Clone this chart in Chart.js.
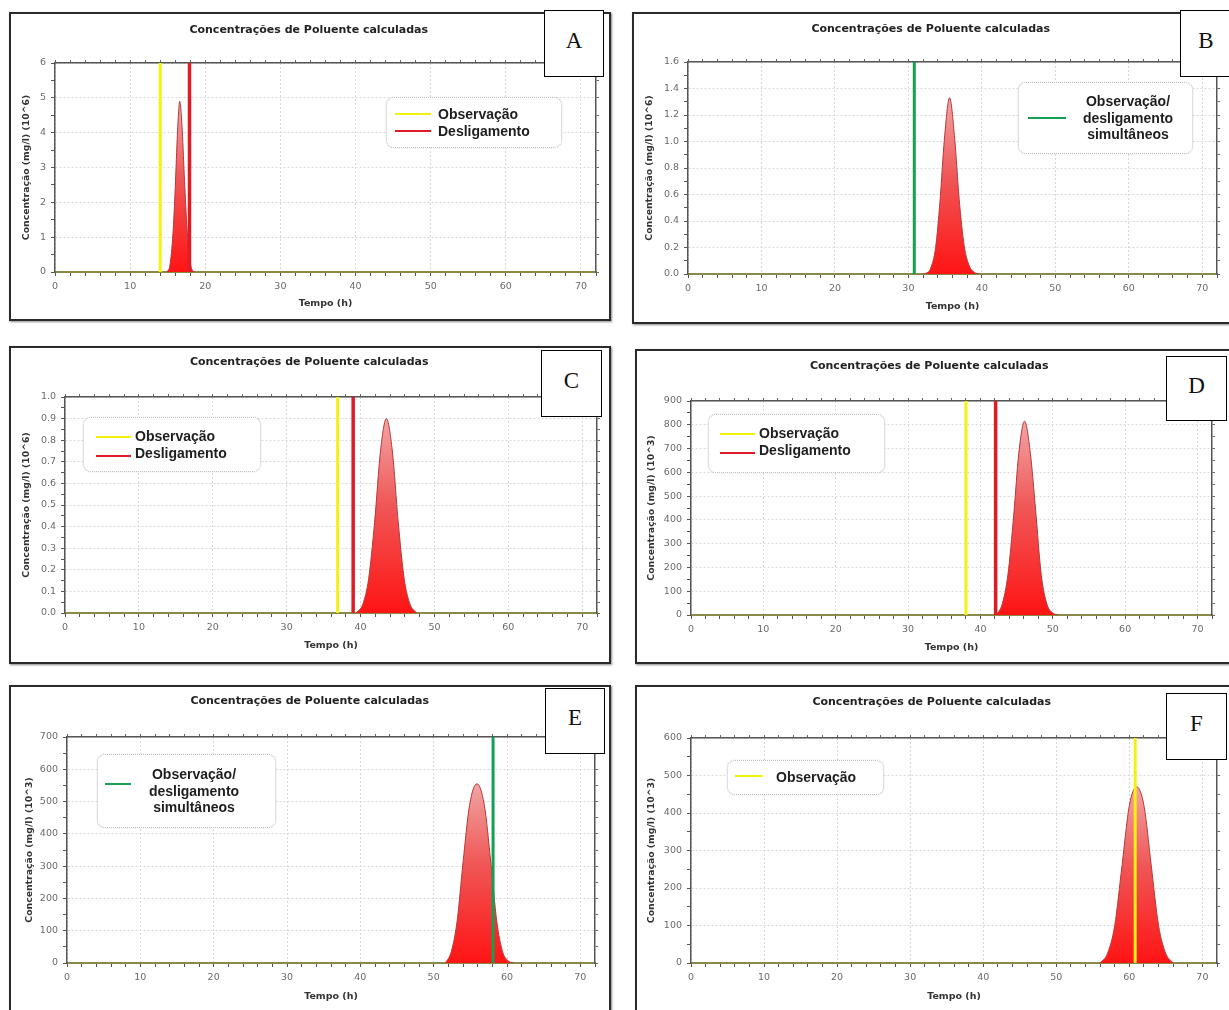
<!DOCTYPE html>
<html>
<head>
<meta charset="utf-8">
<script src="https://cdn.jsdelivr.net/npm/chart.js@4.4.1/dist/chart.umd.min.js"></script>
<style>
  html, body { margin: 0; padding: 0; background: #fff; }
  body { width: 1229px; height: 1010px; overflow: hidden; position: relative; font-family: "Liberation Sans", Arial, sans-serif; }
  .frame { position: absolute; border: 2px solid #2b2b2b; box-shadow: 1px 1px 2px #888; background: #fff; }
  .frame canvas { position: absolute; left: 0; top: 0; }
  .letter { position: absolute; background: #fff; border: 1px solid #000; box-sizing: border-box;
            font-family: "Liberation Serif", serif; font-size: 23px; color: #111;
            display: flex; align-items: center; justify-content: center; padding-bottom: 6px; }
  .legend { position: absolute; background: #fff; border: 1px dotted #bdbdbd; border-radius: 8px;
            box-shadow: 0 0 2px rgba(0,0,0,0.12); box-sizing: border-box; }
  .legend .swatch { position: absolute; height: 2px; }
  .legend .txt { position: absolute; font-weight: bold; font-size: 14px; line-height: 17px; color: #1e1e1e; white-space: nowrap; }
</style>
</head>
<body>
<script>
// ---- data ----
const panelNames = ['A', 'B', 'C', 'D', 'E', 'F'];
const xMax = 72;
const yMax = [6, 1.6, 1.0, 900, 700, 600];
const yMajor = [1, 0.2, 0.1, 100, 100, 100];
const yDecimals = [0, 1, 1, 0, 0, 0];
const yUnit = ['(10^6)', '(10^6)', '(10^6)', '(10^3)', '(10^3)', '(10^3)'];

// vertical markers (hours)
const obsTime = [14, null, 36.9, 38, null, 60.8];
const deslTime = [17.9, null, 39, 42.1, null, null];
const simTime = [null, 30.8, null, null, 58.1, null];

// concentration peaks
const peakTimeA = [14.9, 15.3, 15.7, 16.0, 16.3, 16.6, 16.9, 17.2, 17.5, 17.8, 18.1, 18.5];
const peakConcA = [0, 0.2, 1.1, 2.4, 4.0, 4.9, 4.2, 2.8, 1.5, 0.6, 0.15, 0];
const peakTimeB = [32.2, 33.0, 33.7, 34.3, 34.9, 35.6, 36.3, 36.9, 37.6, 38.3, 39.0, 39.6];
const peakConcB = [0, 0.04, 0.2, 0.55, 1.02, 1.33, 1.02, 0.57, 0.21, 0.06, 0.012, 0];
const peakTimeC = [39.4, 40.3, 41.1, 41.9, 42.7, 43.5, 44.3, 45.1, 45.9, 46.7, 47.6];
const peakConcC = [0, 0.04, 0.16, 0.42, 0.75, 0.9, 0.75, 0.42, 0.16, 0.04, 0];
const peakTimeD = [42.2, 43.0, 43.8, 44.6, 45.3, 46.1, 46.9, 47.6, 48.4, 49.2, 50.0, 50.7];
const peakConcD = [0, 45, 170, 420, 680, 815, 680, 450, 170, 45, 8, 0];
const peakTimeE = [51.6, 52.4, 53.2, 54.0, 54.9, 55.9, 56.9, 57.8, 58.6, 59.4, 60.2, 60.9];
const peakConcE = [0, 35, 130, 310, 490, 555, 490, 310, 130, 35, 6, 0];
const peakTimeF = [56.0, 57.0, 58.0, 59.0, 60.0, 61.0, 62.0, 63.0, 64.0, 65.0, 66.0];
const peakConcF = [0, 25, 100, 260, 420, 470, 420, 260, 100, 25, 0];

const peakTimes = [peakTimeA, peakTimeB, peakTimeC, peakTimeD, peakTimeE, peakTimeF];
const peakConcs = [peakConcA, peakConcB, peakConcC, peakConcD, peakConcE, peakConcF];

const labelObs = 'Observação';
const labelDesl = 'Desligamento';
const labelSim = ['Observação/', 'desligamento', 'simultâneos'];
const chartTitle = 'Concentrações de Poluente calculadas';
const xTitle = 'Tempo (h)';

// ---- page layout (pixels) ----
const layouts = [
  { frame: [9, 12, 602, 309], plot: [55, 63, 596, 272], titleY: 30, xTitleY: 304, yTitleX: 27,
    letter: [544, 10, 60, 67], legend: { box: [386, 97, 176, 51], lineX: 8, lineW: 36, lineRows: [16, 33], textX: 51, textRows: [16, 33] } },
  { frame: [632, 12, 602, 312], plot: [688, 62, 1217, 274], titleY: 29, xTitleY: 307, yTitleX: 650,
    letter: [1180, 10, 52, 67], legend: { box: [1018, 82, 175, 72], lineX: 9, lineW: 38, lineRows: [35], textCenter: 109, textRows: [18, 35, 51] } },
  { frame: [9, 346, 602, 318], plot: [65, 397, 597, 613], titleY: 362, xTitleY: 646, yTitleX: 27,
    letter: [541, 350, 61, 67], legend: { box: [83, 417, 178, 55], lineX: 12, lineW: 35, lineRows: [19, 38], textX: 51, textRows: [18, 35] } },
  { frame: [635, 349, 600, 315], plot: [691, 401, 1212, 615], titleY: 366, xTitleY: 648, yTitleX: 652,
    letter: [1166, 356, 61, 65], legend: { box: [708, 414, 177, 59], lineX: 11, lineW: 35, lineRows: [19, 38], textX: 50, textRows: [18, 35] } },
  { frame: [9, 685, 602, 330], plot: [67, 737, 595, 963], titleY: 701, xTitleY: 997, yTitleX: 30,
    letter: [545, 688, 60, 66], legend: { box: [97, 754, 179, 74], lineX: 7, lineW: 26, lineRows: [29], textCenter: 96, textRows: [19, 36, 52] } },
  { frame: [635, 685, 600, 330], plot: [691, 738, 1217, 963], titleY: 702, xTitleY: 997, yTitleX: 652,
    letter: [1166, 693, 61, 67], legend: { box: [727, 760, 157, 35], lineX: 7, lineW: 28, lineRows: [15], textX: 48, textRows: [16] } }
];

const YELLOW = '#f4f20c';
const RED = '#df1c24';
const GREEN = '#14a052';

const isMajor = (v, step) => Math.abs(v / step - Math.round(v / step)) < 1e-6;

function peakFill(c) {
  const chart = c.chart;
  const area = chart.chartArea;
  if (!area) return '#f03c3c';
  const ds = chart.data.datasets[c.datasetIndex];
  const top = chart.scales.y.getPixelForValue(Math.max(...ds.data.map(p => p.y)));
  const g = chart.ctx.createLinearGradient(0, top, 0, area.bottom);
  g.addColorStop(0, '#f2a4a4');
  g.addColorStop(0.45, '#f05656');
  g.addColorStop(1, '#ff1414');
  return g;
}

function vline(t, top, color, width) {
  return { data: [{ x: t, y: 0 }, { x: t, y: top }], borderColor: color, borderWidth: width, pointRadius: 0, fill: false };
}

function addBox(cls, r) {
  const d = document.createElement('div');
  d.className = cls;
  d.style.left = r[0] + 'px'; d.style.top = r[1] + 'px';
  d.style.width = r[2] + 'px'; d.style.height = r[3] + 'px';
  document.body.appendChild(d);
  return d;
}

panelNames.forEach((name, i) => {
  const L = layouts[i];
  const [fx, fy, fw, fh] = L.frame;
  const cx = fx + 2, cy = fy + 2, cw = fw - 4, ch = fh - 4;
  const frame = addBox('frame', [fx, fy, fw - 4, fh - 4]);
  const canvas = document.createElement('canvas');
  canvas.width = cw; canvas.height = ch;
  canvas.style.width = cw + 'px'; canvas.style.height = ch + 'px';
  frame.appendChild(canvas);

  // fit chart area onto the plot rectangle
  const pl = L.plot[0] - cx, pt = L.plot[1] - cy, pr = L.plot[2] - cx, pb = L.plot[3] - cy;
  const yTitleLH = 9.3 * 1.2, xTitleLH = 9.5 * 1.2, titleLH = 11 * 1.2;
  const padLeft = (L.yTitleX - cx) - yTitleLH / 2;
  const yW = pl - padLeft;
  const xBottom = (L.xTitleY - cy) + xTitleLH / 2;
  const padBottom = ch - xBottom;
  const xH = xBottom - pb;
  const padRight = cw - pr;
  const tPadTop = (L.titleY - cy) - titleLH / 2;
  const tPadBottom = pt - tPadTop - titleLH;

  const datasets = [];
  if (simTime[i] !== null) datasets.push(vline(simTime[i], yMax[i], GREEN, 3));
  if (deslTime[i] !== null) datasets.push(vline(deslTime[i], yMax[i], RED, 3.5));
  if (obsTime[i] !== null) datasets.push(vline(obsTime[i], yMax[i], YELLOW, 3));
  datasets.push({
    data: peakTimes[i].map((t, k) => ({ x: t, y: peakConcs[i][k] })),
    borderColor: '#b23a3a', borderWidth: 1, pointRadius: 0,
    fill: 'origin', backgroundColor: peakFill,
    tension: 0.4, cubicInterpolationMode: 'monotone'
  });

  const tickFont = { family: 'DejaVu Sans', size: 9.5 };
  new Chart(canvas, {
    type: 'line',
    data: { datasets },
    options: {
      responsive: false, animation: false, devicePixelRatio: 1,
      layout: { padding: { left: padLeft, right: padRight, top: 0, bottom: padBottom } },
      plugins: {
        legend: { display: false },
        tooltip: { enabled: false },
        title: {
          display: true, text: chartTitle, color: '#222',
          font: { family: 'DejaVu Sans', size: 11, weight: 'bold', lineHeight: 1.2 },
          padding: { top: tPadTop, bottom: tPadBottom }
        }
      },
      scales: {
        x: {
          type: 'linear', min: 0, max: xMax,
          ticks: { stepSize: 2, autoSkip: false, maxRotation: 0, includeBounds: false, color: '#6a6a6a', font: tickFont, padding: 5,
                   callback: v => (v % 10 === 0 ? v : '') },
          grid: { color: c => (c.tick && c.tick.value % 10 === 0 ? '#d8d8d8' : 'rgba(0,0,0,0)'), tickColor: '#555', tickLength: 4 },
          border: { color: '#8a8a48', width: 2, dash: [2, 2] },
          title: { display: true, text: xTitle, color: '#333', padding: 0,
                   font: { family: 'DejaVu Sans', size: 9.5, weight: 'bold', lineHeight: 1.2 } },
          afterFit: s => { s.height = xH; }
        },
        y: {
          min: 0, max: yMax[i],
          ticks: { stepSize: yMajor[i] / 2, autoSkip: false, color: '#6a6a6a', font: tickFont, padding: 5,
                   callback: v => (isMajor(v, yMajor[i]) ? v.toFixed(yDecimals[i]) : '') },
          grid: { color: c => (c.tick && isMajor(c.tick.value, yMajor[i]) ? '#d8d8d8' : 'rgba(0,0,0,0)'), tickColor: '#555', tickLength: 4 },
          border: { color: '#555', width: 1.5, dash: [2, 2] },
          title: { display: true, text: 'Concentração (mg/l) ' + yUnit[i], color: '#333', padding: 0,
                   font: { family: 'DejaVu Sans', size: 9.3, weight: 'bold', lineHeight: 1.2 } },
          afterFit: s => { s.width = yW; }
        },
        x2: {
          type: 'linear', position: 'top', min: 0, max: xMax,
          ticks: { display: false, stepSize: 2 },
          grid: { drawOnChartArea: false, tickColor: '#666', tickLength: 3 },
          border: { color: '#555', width: 1.5 },
          afterFit: s => { s.height = 0; }
        },
        y2: {
          type: 'linear', position: 'right', min: 0, max: yMax[i],
          ticks: { display: false, stepSize: yMajor[i] / 2 },
          grid: { drawOnChartArea: false, tickColor: '#666', tickLength: 3 },
          border: { color: '#555', width: 1.5 },
          afterFit: s => { s.width = 0; }
        }
      }
    }
  });

  // legend box
  const lg = L.legend;
  const box = addBox('legend', lg.box);
  const entries = [];
  if (simTime[i] !== null) entries.push({ color: GREEN, text: labelSim });
  if (obsTime[i] !== null) entries.push({ color: YELLOW, text: [labelObs] });
  if (deslTime[i] !== null) entries.push({ color: RED, text: [labelDesl] });
  entries.forEach((e, k) => {
    const sw = document.createElement('div');
    sw.className = 'swatch';
    sw.style.background = e.color;
    sw.style.left = lg.lineX + 'px';
    sw.style.width = lg.lineW + 'px';
    sw.style.top = (lg.lineRows[k] - 1) + 'px';
    box.appendChild(sw);
    e.text.forEach((line, j) => {
      const t = document.createElement('div');
      t.className = 'txt';
      t.textContent = line;
      const row = e.text.length > 1 ? lg.textRows[j] : lg.textRows[k];
      t.style.top = (row - 8.5) + 'px';
      if (lg.textCenter !== undefined) {
        t.style.left = (lg.textCenter - 60) + 'px';
        t.style.width = '120px';
        t.style.textAlign = 'center';
      } else {
        t.style.left = lg.textX + 'px';
      }
      box.appendChild(t);
    });
  });

  // panel letter
  const letter = addBox('letter', L.letter);
  letter.textContent = name;
});
</script>
</body>
</html>
